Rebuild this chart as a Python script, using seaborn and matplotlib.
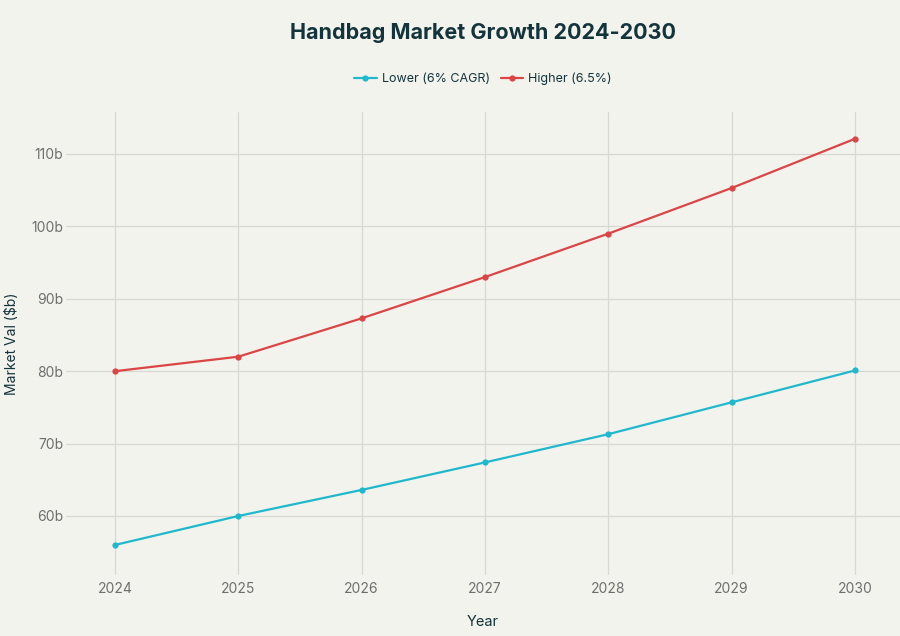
import matplotlib
matplotlib.use("Agg")
import matplotlib.pyplot as plt
import seaborn as sns
import pandas as pd
from matplotlib.ticker import FuncFormatter

years = [2024, 2025, 2026, 2027, 2028, 2029, 2030]
lower = [56.0, 60.0, 63.6, 67.4, 71.3, 75.7, 80.1]
higher = [80.0, 82.0, 87.3, 93.0, 99.0, 105.3, 112.1]
series_names = ["Lower (6% CAGR)", "Higher (6.5%)"]
colors = ["#1FB8CD", "#DB4545"]

df = pd.DataFrame({
    "Year": years * 2,
    "Value": lower + higher,
    "Series": [series_names[0]] * len(years) + [series_names[1]] * len(years),
})

sns.set_theme(style="whitegrid")
bg = "#F3F3EE"
plt.rcParams["font.family"] = ["Inter", "DejaVu Sans"]

fig = plt.figure(figsize=(9, 6.36), dpi=100, facecolor=bg)
ax = fig.add_axes([66 / 900, 1 - 575 / 636, 834 / 900, 463 / 636])
ax.set_facecolor(bg)

sns.lineplot(data=df, x="Year", y="Value", hue="Series", palette=colors,
             marker="o", markersize=4.5, markeredgewidth=0, linewidth=1.6,
             ax=ax, legend=True)

ax.set_xlim(2023.603, 2030.365)
ax.set_ylim(51.85, 115.8)
ax.set_xticks(years)
ax.set_yticks([60, 70, 80, 90, 100, 110])
ax.yaxis.set_major_formatter(FuncFormatter(lambda v, p: f"{int(v)}b"))
ax.grid(True, color="#D8D8D3", linewidth=0.9)
for s in ax.spines.values():
    s.set_visible(False)
ax.tick_params(axis="both", colors="#6E6E6E", labelsize=10, length=0)
ax.tick_params(axis="x", pad=5)
ax.tick_params(axis="y", pad=2)

ax.set_xlabel("Year", fontsize=10.5, color="#13343B", labelpad=14)
ax.set_ylabel("Market Val ($b)", fontsize=10, color="#13343B", labelpad=9)

handles, labels = ax.get_legend_handles_labels()
ax.legend(handles, labels, loc="upper center",
          bbox_to_anchor=((483 - 66) / 834, 1 + 44 / 463),
          ncol=2, frameon=False, fontsize=9, handlelength=1.8, columnspacing=0.9,
          handletextpad=0.4, labelcolor="#13343B", borderaxespad=0)

fig.text(483 / 900, 1 - 33 / 636, "Handbag Market Growth 2024-2030", ha="center", va="center",
         fontsize=15.5, fontweight="bold", color="#13343B")

fig.savefig("out.png", dpi=100, facecolor=bg)
